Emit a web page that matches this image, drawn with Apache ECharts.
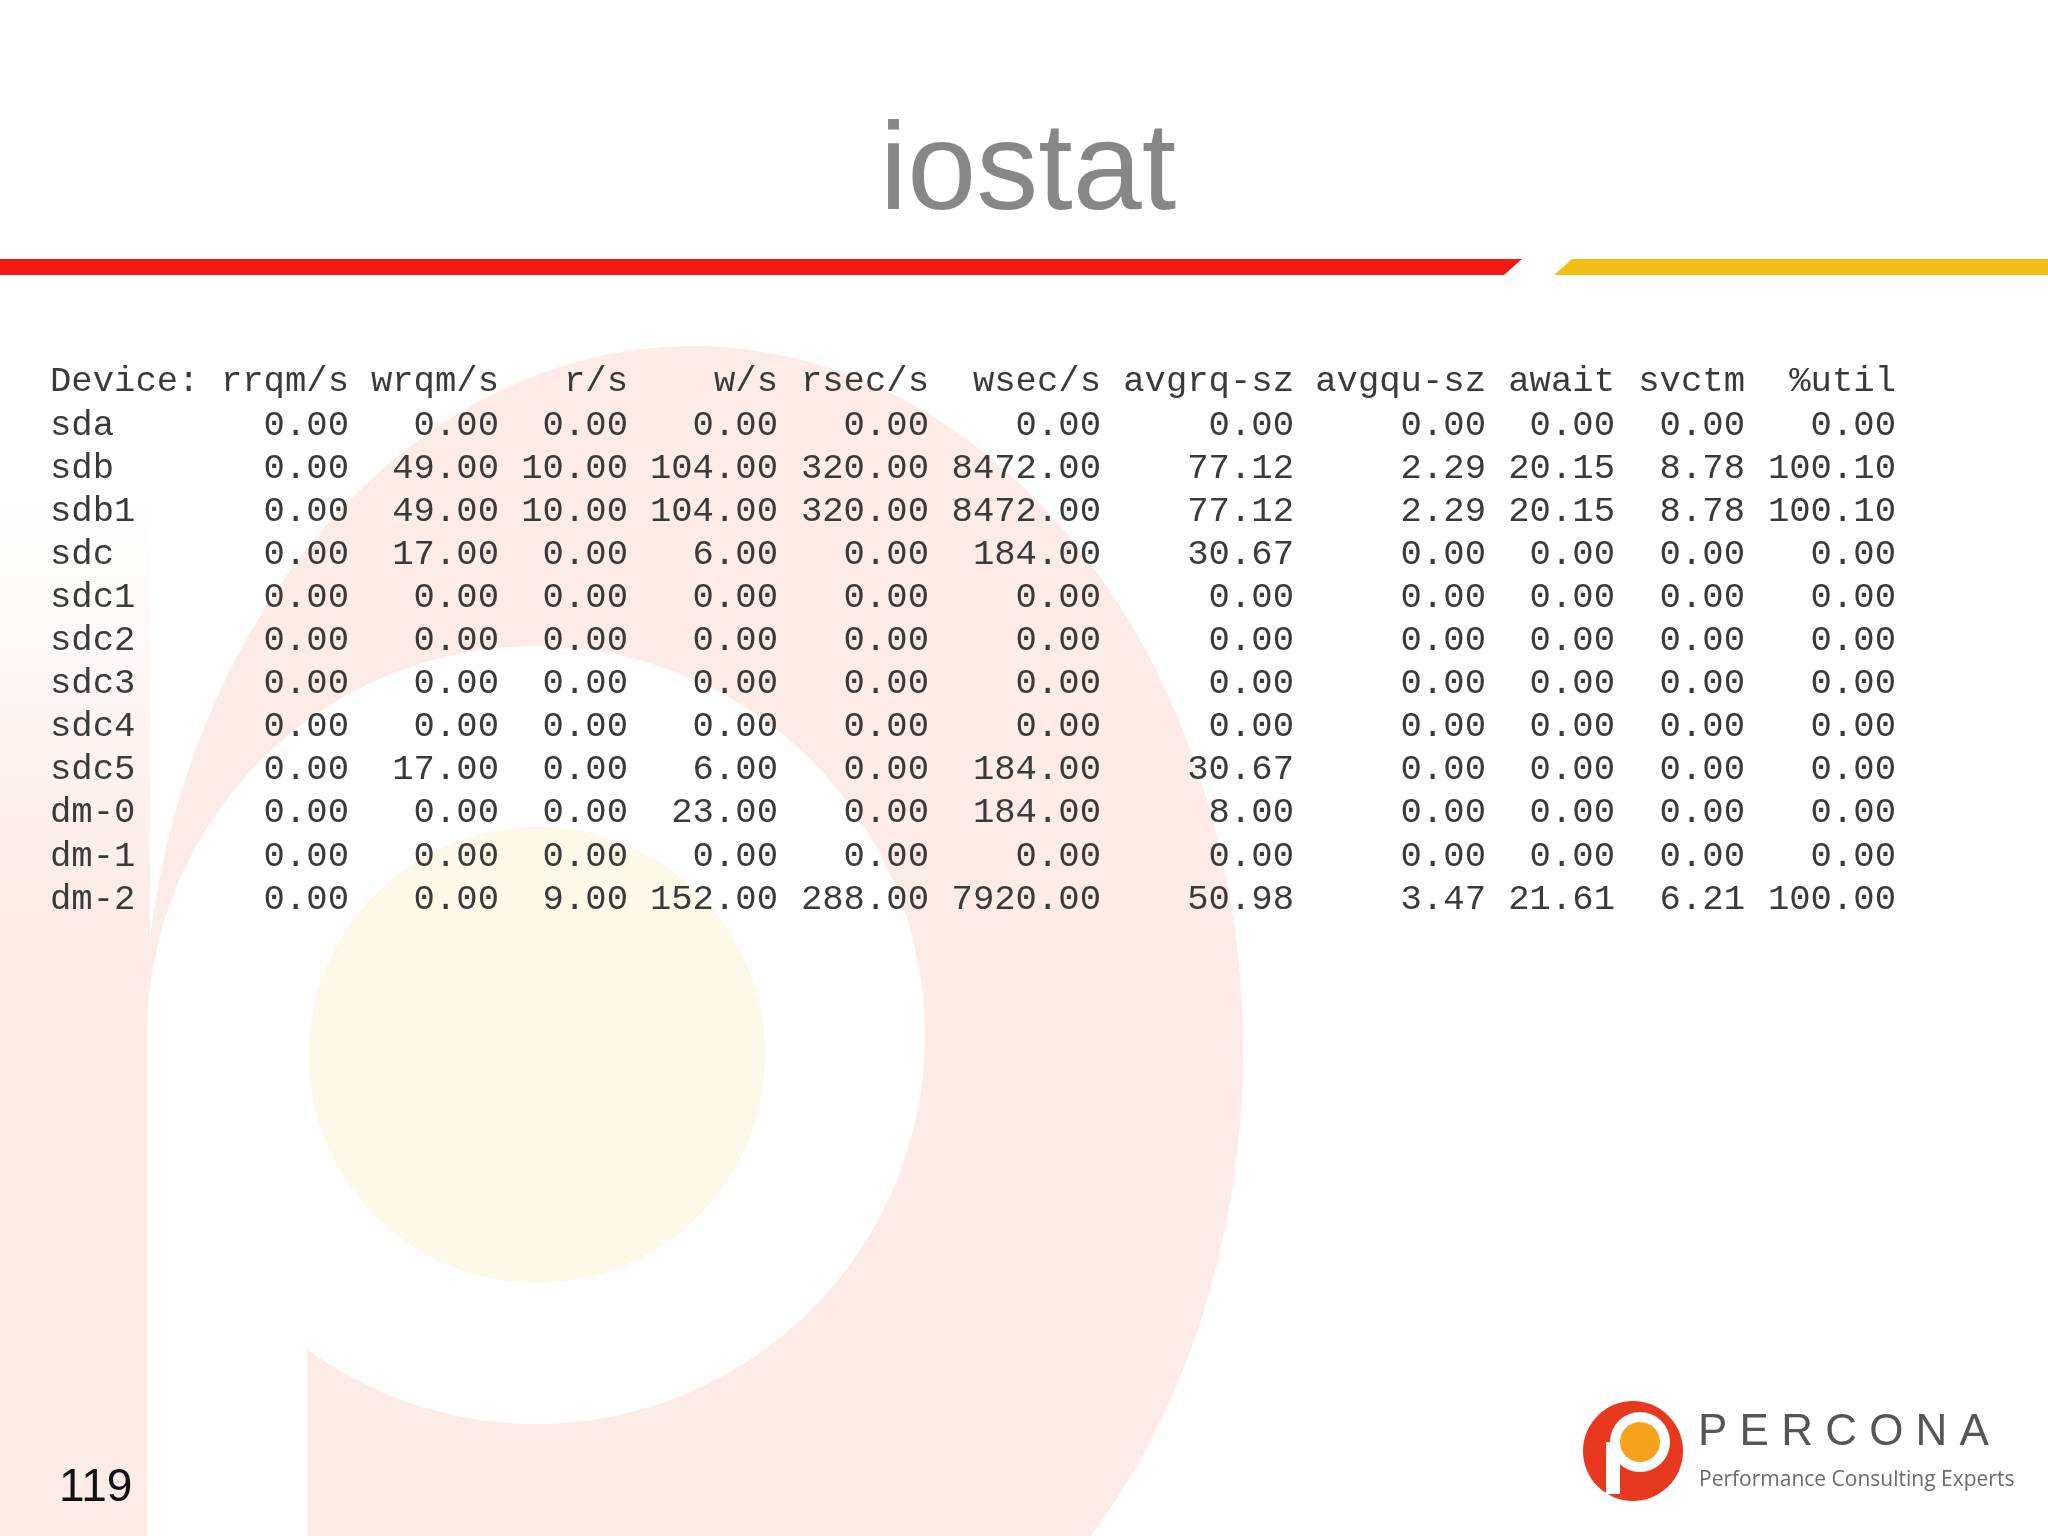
<!DOCTYPE html>
<html><head><meta charset="utf-8">
<script src="https://cdn.jsdelivr.net/npm/echarts@6/dist/echarts.min.js"></script>
<style>html,body{margin:0;padding:0;background:#fff}#c{width:2048px;height:1536px}</style>
</head><body><div id="c"></div>
<script>
const title = 'iostat';
const headers = ['Device:','rrqm/s','wrqm/s','r/s','w/s','rsec/s','wsec/s','avgrq-sz','avgqu-sz','await','svctm','%util'];
const devices = ['sda','sdb','sdb1','sdc','sdc1','sdc2','sdc3','sdc4','sdc5','dm-0','dm-1','dm-2'];
const rrqm = [0,0,0,0,0,0,0,0,0,0,0,0];
const wrqm = [0,49,49,17,0,0,0,0,17,0,0,0];
const rs = [0,10,10,0,0,0,0,0,0,0,0,9];
const ws = [0,104,104,6,0,0,0,0,6,23,0,152];
const rsec = [0,320,320,0,0,0,0,0,0,0,0,288];
const wsec = [0,8472,8472,184,0,0,0,0,184,184,0,7920];
const avgrq = [0,77.12,77.12,30.67,0,0,0,0,30.67,8,0,50.98];
const avgqu = [0,2.29,2.29,0,0,0,0,0,0,0,0,3.47];
const awaitv = [0,20.15,20.15,0,0,0,0,0,0,0,0,21.61];
const svctm = [0,8.78,8.78,0,0,0,0,0,0,0,0,6.21];
const util = [0,100.10,100.10,0,0,0,0,0,0,0,0,100.00];
const pageNum = '119';

const cols = [rrqm,wrqm,rs,ws,rsec,wsec,avgrq,avgqu,awaitv,svctm,util];
const colRight = [349,499,628,778,929,1101,1294,1486,1615,1745,1896];
const font = '35.6px "Liberation Mono", "DejaVu Sans Mono", monospace';
const txtCol = '#3a3a3a';
const rowY0 = 382, rowH = 43.1;
const els = [];
// watermark
const pink = '#fcebe7';
els.push({type:'rect',shape:{x:0,y:500,width:150,height:1040},style:{fill:{type:'linear',x:0,y:0,x2:0,y2:1,colorStops:[{offset:0,color:'rgba(252,235,231,0)'},{offset:0.4,color:pink},{offset:1,color:pink}]}},z:0});
els.push({type:'circle',x:693,y:1050,scaleY:1.28,shape:{cx:0,cy:0,r:550},style:{fill:pink},z:0});
els.push({type:'circle',shape:{cx:536,cy:1035,r:389},style:{fill:'#fff'},z:1});
els.push({type:'rect',shape:{x:147,y:1035,width:160,height:510},style:{fill:'#fff'},z:1});
els.push({type:'circle',shape:{cx:537,cy:1055,r:228},style:{fill:'#fef8e8'},z:2});
// title & bars
els.push({type:'text',style:{text:title,x:1028,y:237,textAlign:'center',textVerticalAlign:'bottom',font:'124px "Liberation Sans", Arial, sans-serif',fill:'#878787'},z:5});
els.push({type:'polygon',shape:{points:[[0,259],[1522,259],[1504,275],[0,275]]},style:{fill:'#f21a12'},z:5});
els.push({type:'polygon',shape:{points:[[1572,259],[2048,259],[2048,275],[1554,275]]},style:{fill:'#f5be12'},z:5});
// table
els.push({type:'text',style:{text:headers[0],x:50,y:rowY0,textVerticalAlign:'middle',font:font,fill:txtCol},z:5});
headers.slice(1).forEach((h,i)=>els.push({type:'text',style:{text:h,x:colRight[i],y:rowY0,textAlign:'right',textVerticalAlign:'middle',font:font,fill:txtCol},z:5}));
devices.forEach((d,r)=>{
  const y = rowY0 + (r+1)*rowH;
  els.push({type:'text',style:{text:d,x:50,y:y,textVerticalAlign:'middle',font:font,fill:txtCol},z:5});
  cols.forEach((c,i)=>els.push({type:'text',style:{text:c[r].toFixed(2),x:colRight[i],y:y,textAlign:'right',textVerticalAlign:'middle',font:font,fill:txtCol},z:5}));
});
// page number
els.push({type:'text',style:{text:pageNum,x:59,y:1488,textVerticalAlign:'middle',font:'46px "Liberation Sans", Arial, sans-serif',fill:'#111'},z:5});
// logo
els.push({type:'circle',shape:{cx:1633,cy:1451,r:50},style:{fill:'#e8381e'},z:5});
els.push({type:'circle',shape:{cx:1640,cy:1442,r:30},style:{fill:'#fff'},z:6});
els.push({type:'circle',shape:{cx:1640,cy:1442,r:20},style:{fill:'#f6a21c'},z:7});
els.push({type:'rect',shape:{x:1606,y:1442,width:14,height:52},style:{fill:'#fff'},z:6});
els.push({type:'text',style:{text:'P E R C O N A',x:1698,y:1455,textVerticalAlign:'bottom',font:'44px "Liberation Sans", Arial, sans-serif',fill:'#555'},z:5});
els.push({type:'text',style:{text:'Performance Consulting Experts',x:1699,y:1480,textVerticalAlign:'middle',font:'21px "Open Sans", "Liberation Sans", sans-serif',fill:'#6a6a6a'},z:5});

const chart = echarts.init(document.getElementById('c'));
chart.setOption({animation:false,backgroundColor:'#fff',graphic:{elements:els}});
</script></body></html>
